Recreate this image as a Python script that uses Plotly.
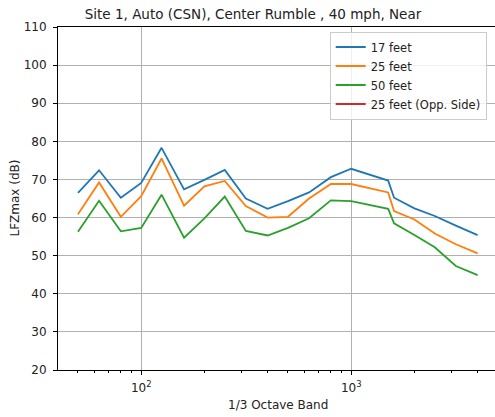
import plotly.graph_objects as go

# 1/3 octave band centre frequencies (Hz)
freqs = [50, 63, 80, 100, 125, 160, 200, 250, 315, 400, 500, 630, 800, 1000,
         1500, 1600, 2000, 2500, 3150, 4000]

# LFZmax levels (dB) per measurement distance
lvl_17ft = [66.5, 72.4, 65.2, 69.1, 78.3, 67.4, 69.9, 72.5, 65.0, 62.3, 64.3,
            66.6, 70.6, 72.8, 69.7, 65.2, 62.4, 60.4, 57.9, 55.4]
lvl_25ft = [60.9, 69.2, 60.2, 65.6, 75.5, 63.1, 68.2, 69.6, 63.0, 60.0, 60.2,
            65.0, 68.8, 68.8, 66.6, 61.7, 59.5, 55.8, 53.0, 50.6]
lvl_50ft = [56.3, 64.4, 56.4, 57.3, 66.0, 54.7, 59.8, 65.5, 56.5, 55.3, 57.3,
            59.8, 64.5, 64.3, 62.3, 58.5, 55.4, 52.2, 47.3, 44.9]
lvl_25ft_opp = []  # no data for the opposite side

series = [
    ("17 feet", lvl_17ft, "#1f77b4"),
    ("25 feet", lvl_25ft, "#ff7f0e"),
    ("50 feet", lvl_50ft, "#2ca02c"),
    ("25 feet (Opp. Side)", lvl_25ft_opp, "#d62728"),
]

y_ticks = [20, 30, 40, 50, 60, 70, 80, 90, 100, 110]
x_major = [100, 1000]
x_major_text = ["10<sup>2</sup>", "10<sup>3</sup>"]
x_minor = [40, 50, 60, 70, 80, 90, 200, 300, 400, 500, 600, 700, 800, 900,
           2000, 3000, 4000]

W, H = 495, 417
L, R, T, B = 58, 0, 27, 47
FONT = "DejaVu Sans"
TXT = "#222222"
FS = 12

fig = go.Figure()
for name, vals, color in series:
    xs = freqs[:len(vals)] if vals else [None]
    ys = vals if vals else [None]
    fig.add_trace(go.Scatter(x=xs, y=ys, mode="lines", name=name,
                             line=dict(color=color, width=1.8)))

fig.update_layout(
    width=W, height=H,
    margin=dict(l=L, r=R, t=T, b=B, pad=0),
    paper_bgcolor="white", plot_bgcolor="white",
    font=dict(family=FONT, size=FS, color=TXT),
    showlegend=True,
    legend=dict(
        x=(486.7 - L) / (W - L - R), y=(370 - 31.5) / (H - T - B),
        xanchor="right", yanchor="top",
        bgcolor="rgba(255,255,255,0.8)", bordercolor="#cccccc", borderwidth=1,
        font=dict(family=FONT, size=11.5, color=TXT),
        tracegroupgap=0,
    ),
    xaxis=dict(
        type="log",
        range=[1.60382, 1.60382 + (W - L - R) / 210.0],
        tickmode="array", tickvals=x_major, ticktext=x_major_text,
        ticks="outside", ticklen=4, tickwidth=1, tickcolor="black",
        ticklabelstandoff=3,
        showgrid=True, gridcolor="#b0b0b0", gridwidth=1,
        showline=True, linecolor="black", linewidth=1, mirror=True,
        zeroline=False,
        tickfont=dict(family=FONT, size=FS, color=TXT),
        minor=dict(tickmode="array", tickvals=x_minor, ticks="outside",
                   ticklen=2, tickcolor="black", showgrid=False),
    ),
    yaxis=dict(
        range=[20, 110],
        tickmode="array", tickvals=y_ticks,
        ticks="outside", ticklen=4, tickwidth=1, tickcolor="black",
        ticklabelstandoff=4,
        showgrid=True, gridcolor="#b0b0b0", gridwidth=1,
        showline=True, linecolor="black", linewidth=1, mirror=False,
        zeroline=False,
        tickfont=dict(family=FONT, size=FS, color=TXT),
    ),
    title=dict(
        text="Site 1, Auto (CSN), Center Rumble , 40 mph, Near",
        x=253 / W, xref="container", xanchor="center",
        y=1 - 14 / H, yref="container", yanchor="middle",
        font=dict(family=FONT, size=13.5, color=TXT),
    ),
)

# axis titles placed as annotations
fig.add_annotation(text="1/3 Octave Band", xref="paper", yref="paper",
                   x=(277.5 - L) / (W - L - R), y=-(405 - 370) / (H - T - B),
                   xanchor="center", yanchor="middle", showarrow=False,
                   font=dict(family=FONT, size=FS, color=TXT))
fig.add_annotation(text="LFZmax (dB)", xref="paper", yref="paper",
                   x=-(L - 14) / (W - L - R), y=0.5, textangle=-90,
                   xanchor="center", yanchor="middle", showarrow=False,
                   font=dict(family=FONT, size=FS, color=TXT))

fig.write_html("out.html")
